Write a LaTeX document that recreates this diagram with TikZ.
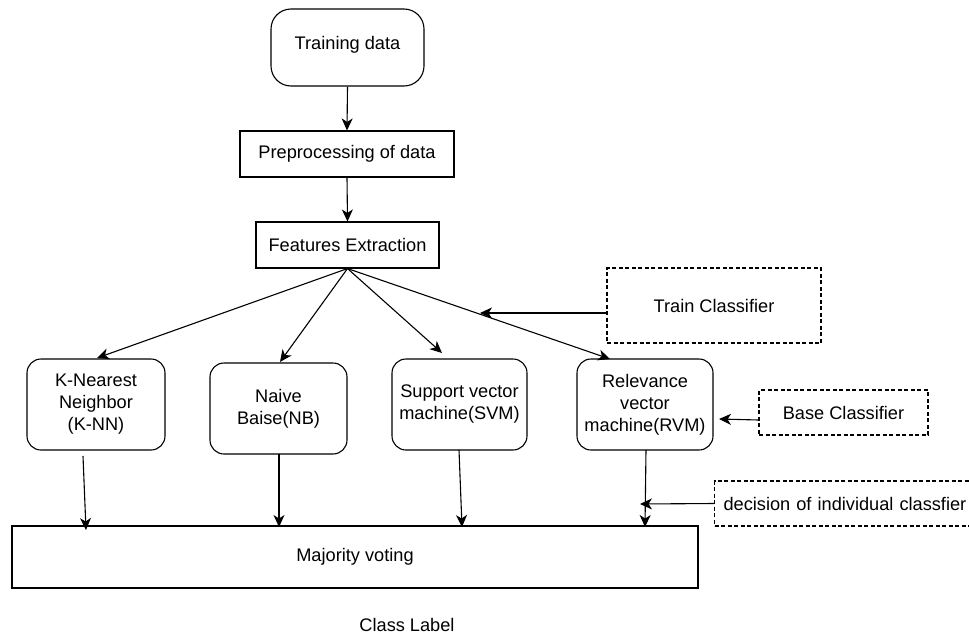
\documentclass[tikz,border=0pt]{standalone}
\usepackage{fontspec}
\setmainfont{Liberation Sans}
\usetikzlibrary{arrows.meta}
\tikzset{
  txt/.style={font=\fontsize{18.2}{22}\selectfont, align=center, inner sep=0pt},
  box/.style={txt, draw, line width=1.1pt},
  rbox/.style={box, rounded corners=14pt},
  dbox/.style={txt, draw, line width=1.1pt, dash pattern=on 4pt off 2.5pt},
  arr/.style={line width=1.1pt, -{Stealth[length=12pt,width=11pt,inset=3.5pt]}},
}
\begin{document}
\begin{tikzpicture}[x=1pt,y=-1pt]
\useasboundingbox (0,0) rectangle (969,637);
\clip (0,0) rectangle (969,637);

% pipeline
\node[box, rounded corners=20pt, minimum width=153pt, minimum height=77pt,
      text height=13pt, text depth=9pt] (train) at (347.5,47.5) {Training data};
\node[box, minimum width=214pt, minimum height=46pt] (pre) at (347,154) {Preprocessing of data};
\node[box, minimum width=183pt, minimum height=46pt] (fe) at (347.5,245) {Features Extraction};

% classifiers
\node[rbox, minimum width=138pt, minimum height=91pt] (knn) at (96,404.5) {K-Nearest\\Neighbor\\(K-NN)};
\node[rbox, minimum width=137pt, minimum height=91pt] (nb) at (278.5,408.5) {Naive\\Baise(NB)};
\node[rbox, minimum width=135pt, minimum height=91pt] (svm) at (459.5,404.5) {Support vector\\machine(SVM)};
\node[rbox, minimum width=136pt, minimum height=91pt] (rvm) at (645,404.5) {Relevance\\vector\\machine(RVM)};

% annotations
\node[dbox, minimum width=214pt, minimum height=75pt] (tcl) at (714,305.5) {Train Classifier};
\node[dbox, minimum width=169pt, minimum height=45pt] (base) at (843.5,412.5) {Base Classifier};
\node[dbox, anchor=west, minimum width=280pt, minimum height=45pt, align=left,
      inner xsep=9pt, text width=262pt] (dec) at (714,503.5) {decision of individual classfier};

% combination
\node[box, minimum width=686pt, minimum height=62pt] (maj) at (355,557) {Majority voting};
\node[txt] (cls) at (407,625) {Class Label};

% arrow end points
\coordinate (knnT) at (97,358);
\coordinate (nbT) at (280,362);
\coordinate (svmT) at (442,353);
\coordinate (rvmT) at (610,359);
\coordinate (tclT) at (480,313);
\coordinate (baseT) at (719,419);
\coordinate (decT) at (640,504);
\coordinate (knnS) at (83,456);
\coordinate (knnE) at (86,530);
\coordinate (nbS) at (279,454);
\coordinate (nbE) at (279,527);
\coordinate (svmS) at (459,450);
\coordinate (svmE) at (462,527);
\coordinate (rvmS) at (646,450);
\coordinate (rvmE) at (645,527);

\draw[arr] (train.south) -- (pre.north);
\draw[arr] (pre.south) -- (fe.north);

\draw[arr] (fe.south) -- (knnT);
\draw[arr] (fe.south) -- (nbT);
\draw[arr] (fe.south) -- (svmT);
\draw[arr] (fe.south) -- (rvmT);

\draw[arr] ([yshift=-7.5pt]tcl.west) -- (tclT);
\draw[arr] ([yshift=-7.5pt]base.west) -- (baseT);
\draw[arr] (dec.west) -- (decT);

\draw[arr] (knnS) -- (knnE);
\draw[arr] (nbS) -- (nbE);
\draw[arr] (svmS) -- (svmE);
\draw[arr] (rvmS) -- (rvmE);
\end{tikzpicture}
\end{document}
